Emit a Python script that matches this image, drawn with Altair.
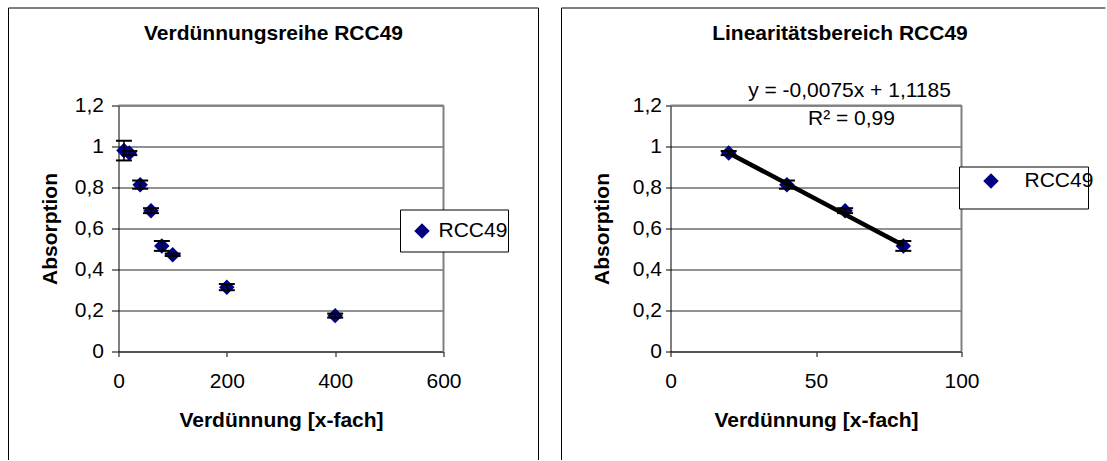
import altair as alt
import pandas as pd

FONT = "Liberation Sans"

# ---------------- data ----------------
dil_x = [10, 20, 40, 60, 80, 100, 200, 400]
absorb = [0.98, 0.968, 0.814, 0.687, 0.515, 0.472, 0.314, 0.175]
absorb_err = [0.048, 0.01, 0.02, 0.012, 0.024, 0.006, 0.015, 0.01]

lin_x = [20, 40, 60, 80]
lin_y = [0.968, 0.814, 0.687, 0.515]
lin_err = [0.01, 0.02, 0.012, 0.024]

trend_x = [20, 80]
trend_y = [0.9685, 0.5185]

y_ticks = [0, 0.2, 0.4, 0.6, 0.8, 1.0, 1.2]
left_x_ticks = [0, 200, 400, 600]
right_x_ticks = [0, 50, 100]

series_name = "RCC49"
title_left = "Verdünnungsreihe RCC49"
title_right = "Linearitätsbereich RCC49"
x_title = "Verdünnung [x-fach]"
y_title = "Absorption"
eq_text = "y = -0,0075x + 1,1185"
r2_text = "R² = 0,99"

one = pd.DataFrame({"k": [0]})

FS = 21
H = 246
SYM = 240


def make_df(xs, ys, errs):
    return pd.DataFrame({
        "x": xs, "y": ys,
        "lo": [a - e for a, e in zip(ys, errs)],
        "hi": [a + e for a, e in zip(ys, errs)],
        "series": [series_name] * len(xs),
    })


def x_enc(field, domain, ticks):
    return alt.X(field, type="quantitative",
                 scale=alt.Scale(domain=domain, nice=False, zero=False),
                 axis=alt.Axis(values=ticks, title=x_title, grid=False,
                               labelFlush=False, labelOverlap=False,
                               tickSize=5, tickColor="black", tickWidth=1,
                               domainColor="#404040", domainWidth=1.5,
                               labelPadding=14, labelFont=FONT, labelFontSize=FS,
                               labelColor="black", titleFont=FONT, titleFontSize=FS,
                               titleFontWeight="bold", titleColor="black",
                               titlePadding=18))


def y_enc(field, ts, lp, tp):
    return alt.Y(field, type="quantitative",
                 scale=alt.Scale(domain=[0, 1.2], nice=False),
                 axis=alt.Axis(values=y_ticks,
                               labelExpr="replace(format(datum.value, '~g'), '.', ',')",
                               title=y_title, grid=True, gridColor="#222222", gridWidth=1,
                               labelFlush=False, labelOverlap=False,
                               tickSize=ts, tickColor="black", domainColor="black",
                               domainWidth=1, labelPadding=lp, labelFont=FONT,
                               labelFontSize=FS, labelColor="black", titleFont=FONT,
                               titleFontSize=FS, titleFontWeight="bold",
                               titleColor="black", titlePadding=tp))


def vrule(x, y, y2, color="black", w=1):
    return alt.Chart(one).mark_rule(color=color, strokeWidth=w).encode(
        x=alt.value(x), y=alt.value(y), y2=alt.value(y2))


def hrule(x, x2, y, color="black", w=1):
    return alt.Chart(one).mark_rule(color=color, strokeWidth=w).encode(
        x=alt.value(x), x2=alt.value(x2), y=alt.value(y))


def panel(df, domain, ticks, W, yax, frame, legend_box, legend_pos, label_offset, title, title_x):
    layers = []
    fx1, fx2, fy1, fy2 = frame
    layers.append(vrule(fx1, fy1, fy2))
    layers.append(hrule(fx1, fx2, fy1))
    if fx2 < 430:
        layers.append(vrule(fx2, fy1, fy2))
    # plot area border (top, right)
    layers.append(hrule(0, W, 0, "#808080", 2))
    layers.append(vrule(W, 0, H, "#808080", 2))
    # legend box
    bx1, by1, bx2, by2 = legend_box
    layers.append(alt.Chart(one).mark_rect(fill="white", stroke="black", strokeWidth=1).encode(
        x=alt.value(bx1), x2=alt.value(bx2), y=alt.value(by1), y2=alt.value(by2)))
    # points
    layers.append(alt.Chart(df).mark_point(shape="diamond", filled=True, size=SYM, opacity=1).encode(
        x=x_enc("x", domain, ticks), y=y_enc("y", *yax),
        color=alt.Color("series:N", scale=alt.Scale(range=["#000080"]),
                        legend=alt.Legend(orient="none", legendX=legend_pos[0],
                                          legendY=legend_pos[1], title=None, padding=0,
                                          labelFont=FONT, labelFontSize=FS,
                                          labelColor="black", labelOffset=label_offset,
                                          symbolType="diamond", symbolSize=SYM,
                                          symbolStrokeWidth=0, symbolOpacity=1))))
    # error bars
    layers.append(alt.Chart(df).mark_rule(color="black", strokeWidth=1.5).encode(
        x=x_enc("x", domain, ticks), y=y_enc("lo", *yax), y2="hi:Q"))
    layers.append(alt.Chart(df).mark_tick(color="black", orient="horizontal", size=16,
                                          thickness=2, opacity=1).encode(
        x=x_enc("x", domain, ticks), y=y_enc("lo", *yax)))
    layers.append(alt.Chart(df).mark_tick(color="black", orient="horizontal", size=16,
                                          thickness=2, opacity=1).encode(
        x=x_enc("x", domain, ticks), y=y_enc("hi", *yax)))
    # title
    layers.append(alt.Chart(one).mark_text(font=FONT, fontSize=FS, fontWeight="bold",
                                           align="center", baseline="alphabetic",
                                           color="black").encode(
        x=alt.value(title_x), y=alt.value(-65.5), text=alt.value(title)))
    return layers


left_df = make_df(dil_x, absorb, absorb_err)
right_df = make_df(lin_x, lin_y, lin_err)
trend_df = pd.DataFrame({"x": trend_x, "y": trend_y})

WL, WR = 325, 291
YAX_L = (7, 8, 14)
YAX_R = (5, 4, 20)

left_layers = panel(left_df, [0, 600], left_x_ticks, WL, YAX_L,
                    (-110, 420, -97.5, 354.5), (282, 104.5, 390, 146.5),
                    (293, 115), 6, title_left, 155)
left = alt.layer(*left_layers).properties(width=WL, height=H)

right_layers = panel(right_df, [0, 100], right_x_ticks, WR, YAX_R,
                     (-109, 435, -97.5, 354.5), (289, 61.5, 418, 103.5),
                     (310, 65), 23, title_right, 169.5)
right_layers.append(alt.Chart(trend_df).mark_line(color="black", strokeWidth=4.5).encode(
    x=x_enc("x", [0, 100], right_x_ticks), y=y_enc("y", *YAX_R)))
right_layers.append(alt.Chart(one).mark_text(font=FONT, fontSize=FS, align="center",
                                             baseline="alphabetic", color="black").encode(
    x=alt.value(179), y=alt.value(-9), text=alt.value(eq_text)))
right_layers.append(alt.Chart(one).mark_text(font=FONT, fontSize=FS, align="center",
                                             baseline="alphabetic", color="black").encode(
    x=alt.value(181), y=alt.value(19.5), text=alt.value(r2_text)))
right = alt.layer(*right_layers).properties(width=WR, height=H)

chart = alt.hconcat(left, right, spacing=227, bounds="flush").resolve_scale(
    color="independent").resolve_legend(color="independent").properties(
    padding={"left": 7.5, "top": 7.5, "right": 0, "bottom": 0},
    background="white").configure_view(stroke=None)

chart.save("out.html", embed_options={"renderer": "svg", "actions": False})
